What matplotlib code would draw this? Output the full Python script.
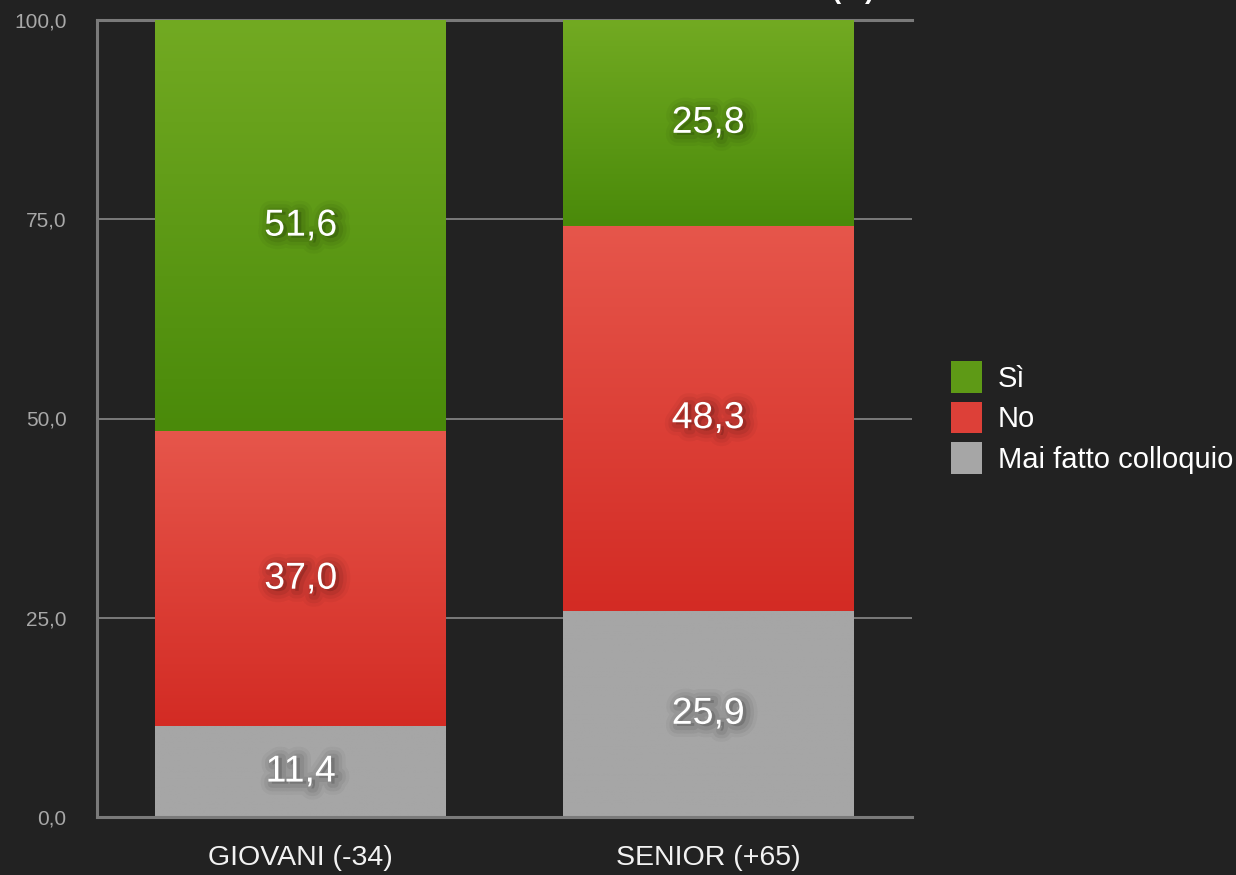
import matplotlib
matplotlib.use("Agg")
import matplotlib.pyplot as plt
import matplotlib.patheffects as pe
from matplotlib.colors import LinearSegmentedColormap
from matplotlib.patches import Patch
import numpy as np

categories = ["GIOVANI (-34)", "SENIOR (+65)"]
series_names = ["Sì", "No", "Mai fatto colloquio"]
si = [51.6, 25.8]
no = [37.0, 48.3]
mai = [11.4, 25.9]
yticks = [0, 25, 50, 75, 100]
ytick_labels = ["0,0", "25,0", "50,0", "75,0", "100,0"]

plt.rcParams['font.family'] = ['Liberation Sans', 'DejaVu Sans']


class SoftShadow(pe.AbstractPathEffect):
    """Dark stroked+filled copy of the glyphs at an offset (no white fill)."""
    def __init__(self, offset=(2.5, -1.5), linewidth=8, alpha=0.05):
        super().__init__(offset)
        self._lw = linewidth
        self._alpha = alpha

    def draw_path(self, renderer, gc, tpath, affine, rgbFace=None):
        gc0 = renderer.new_gc()
        gc0.copy_properties(gc)
        gc0.set_linewidth(self._lw)
        gc0.set_foreground((0, 0, 0, self._alpha))
        gc0.set_alpha(self._alpha)
        renderer.draw_path(gc0, tpath, affine + self._offset_transform(renderer),
                           (0, 0, 0, self._alpha))
        gc0.restore()


BG = "#222222"
fig = plt.figure(figsize=(12.36, 8.75), dpi=100, facecolor=BG)
ax = fig.add_axes([97/1236, 1-817/875, (912-97)/1236, (817-20)/875])
ax.set_facecolor(BG)

x = np.arange(len(categories))
width = 0.714

grad = {
    "Sì": ("#72aa22", "#4a8a0a"),
    "No": ("#e6564b", "#d32b24"),
    "Mai fatto colloquio": ("#a6a6a6", "#a6a6a6"),
}

shadow_fx = [SoftShadow(linewidth=16, alpha=0.035),
             SoftShadow(linewidth=11, alpha=0.05),
             SoftShadow(linewidth=6, alpha=0.07),
             pe.Normal()]

bottoms = np.zeros(len(categories))
order = [("Mai fatto colloquio", mai), ("No", no), ("Sì", si)]
for name, vals in order:
    top_c, bot_c = grad[name]
    bars = ax.bar(x, vals, width, bottom=bottoms, color=bot_c, zorder=2, linewidth=0)
    cmap = LinearSegmentedColormap.from_list(name, [bot_c, top_c])
    g = np.linspace(0, 1, 256).reshape(-1, 1)
    for b in bars:
        x0, y0, w, h = b.get_x(), b.get_y(), b.get_width(), b.get_height()
        im = ax.imshow(g, cmap=cmap, origin="lower", aspect="auto",
                       extent=(x0, x0 + w, y0, y0 + h), zorder=2.5)
        im.set_clip_path(b)
    for xi, v, bt in zip(x, vals, bottoms):
        lab = f"{v:.1f}".replace(".", ",")
        ax.text(xi, bt + v / 2, lab, ha="center", va="center",
                color="white", fontsize=27, zorder=5, path_effects=shadow_fx)
    bottoms = bottoms + np.array(vals)

ax.set_xlim(-0.5, 1.5)
ax.set_ylim(0, 100)
ax.set_yticks(yticks)
ax.set_yticklabels(ytick_labels)
ax.set_xticks(x)
ax.set_xticklabels(categories)
ax.tick_params(axis="y", length=0, pad=22, labelsize=15, labelcolor="#a8a8a8")
ax.tick_params(axis="x", length=0, pad=20, labelsize=20.5, labelcolor="#f2f2f2")
ax.yaxis.grid(True, color="#8a8a8a", linewidth=1.2, zorder=1)
ax.set_axisbelow(True)
for s in ["top", "right"]:
    ax.spines[s].set_visible(False)
for s in ["left", "bottom"]:
    ax.spines[s].set_color("#7a7a7a")
    ax.spines[s].set_linewidth(2.2)
ax.axhline(100, color="#7a7a7a", linewidth=2.2, zorder=1, clip_on=False)

handles = [Patch(facecolor="#5e9a16", edgecolor="none"),
           Patch(facecolor="#dd4038", edgecolor="none"),
           Patch(facecolor="#a6a6a6", edgecolor="none")]
leg = fig.legend(handles, series_names, loc="center left",
                 bbox_to_anchor=(951/1236, 1-417.5/875), frameon=False,
                 fontsize=21, labelcolor="white", handlelength=1.05, handleheight=1.3,
                 handletextpad=0.55, labelspacing=0.3, borderpad=0, borderaxespad=0)

fig.text(875/1236, 1 + 2/875, "(%)", ha="right", va="baseline", color="white",
         fontsize=20, fontweight="bold")

fig.savefig("out.png", dpi=100, facecolor=BG)
